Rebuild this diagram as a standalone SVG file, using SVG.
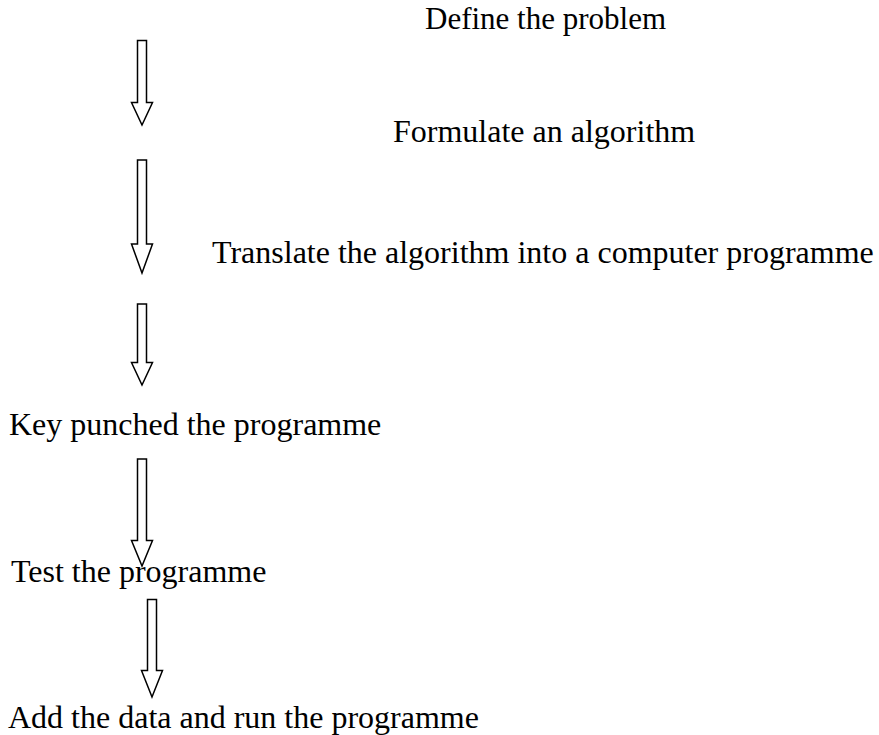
<svg xmlns="http://www.w3.org/2000/svg" width="879" height="735" viewBox="0 0 879 735">
  <style>
    .step { font-family: "Liberation Serif", "Times New Roman", serif; font-size: 32px; fill: #000; }
    .arrow { fill: #fff; stroke: #000; stroke-width: 1.5; stroke-linejoin: miter; }
  </style>
  <rect width="879" height="735" fill="#fff"/>

  <!-- hollow block arrows between the steps -->
  <g id="connectors">
    <polygon class="arrow" points="137.5,40.5 146.5,40.5 146.5,102.5 152.5,102.5 142,125 131.5,102.5 137.5,102.5"/>
    <polygon class="arrow" points="137.5,160 146.5,160 146.5,244 152.5,244 142,273 131.5,244 137.5,244"/>
    <polygon class="arrow" points="137.5,304 146.5,304 146.5,362.5 152.5,362.5 142,385 131.5,362.5 137.5,362.5"/>
    <polygon class="arrow" points="137.5,459 146.5,459 146.5,540.5 152.5,540.5 142,566 131.5,540.5 137.5,540.5"/>
    <polygon class="arrow" points="147.5,599.5 156.5,599.5 156.5,670.5 162.5,670.5 152,697 141.5,670.5 147.5,670.5"/>
  </g>

  <g id="define">
    <text class="step" x="425" y="29" style="font-size:31px">Define the problem</text>
  </g>
  <g id="formulate">
    <text class="step" x="393" y="142">Formulate an algorithm</text>
  </g>
  <g id="translate">
    <text class="step" x="212" y="263">Translate the algorithm into a computer programme</text>
  </g>
  <g id="keypunch">
    <text class="step" x="9" y="435">Key punched the programme</text>
  </g>
  <g id="test">
    <text class="step" x="11" y="582">Test the programme</text>
  </g>
  <g id="run">
    <text class="step" x="8" y="728">Add the data and run the programme</text>
  </g>
</svg>
